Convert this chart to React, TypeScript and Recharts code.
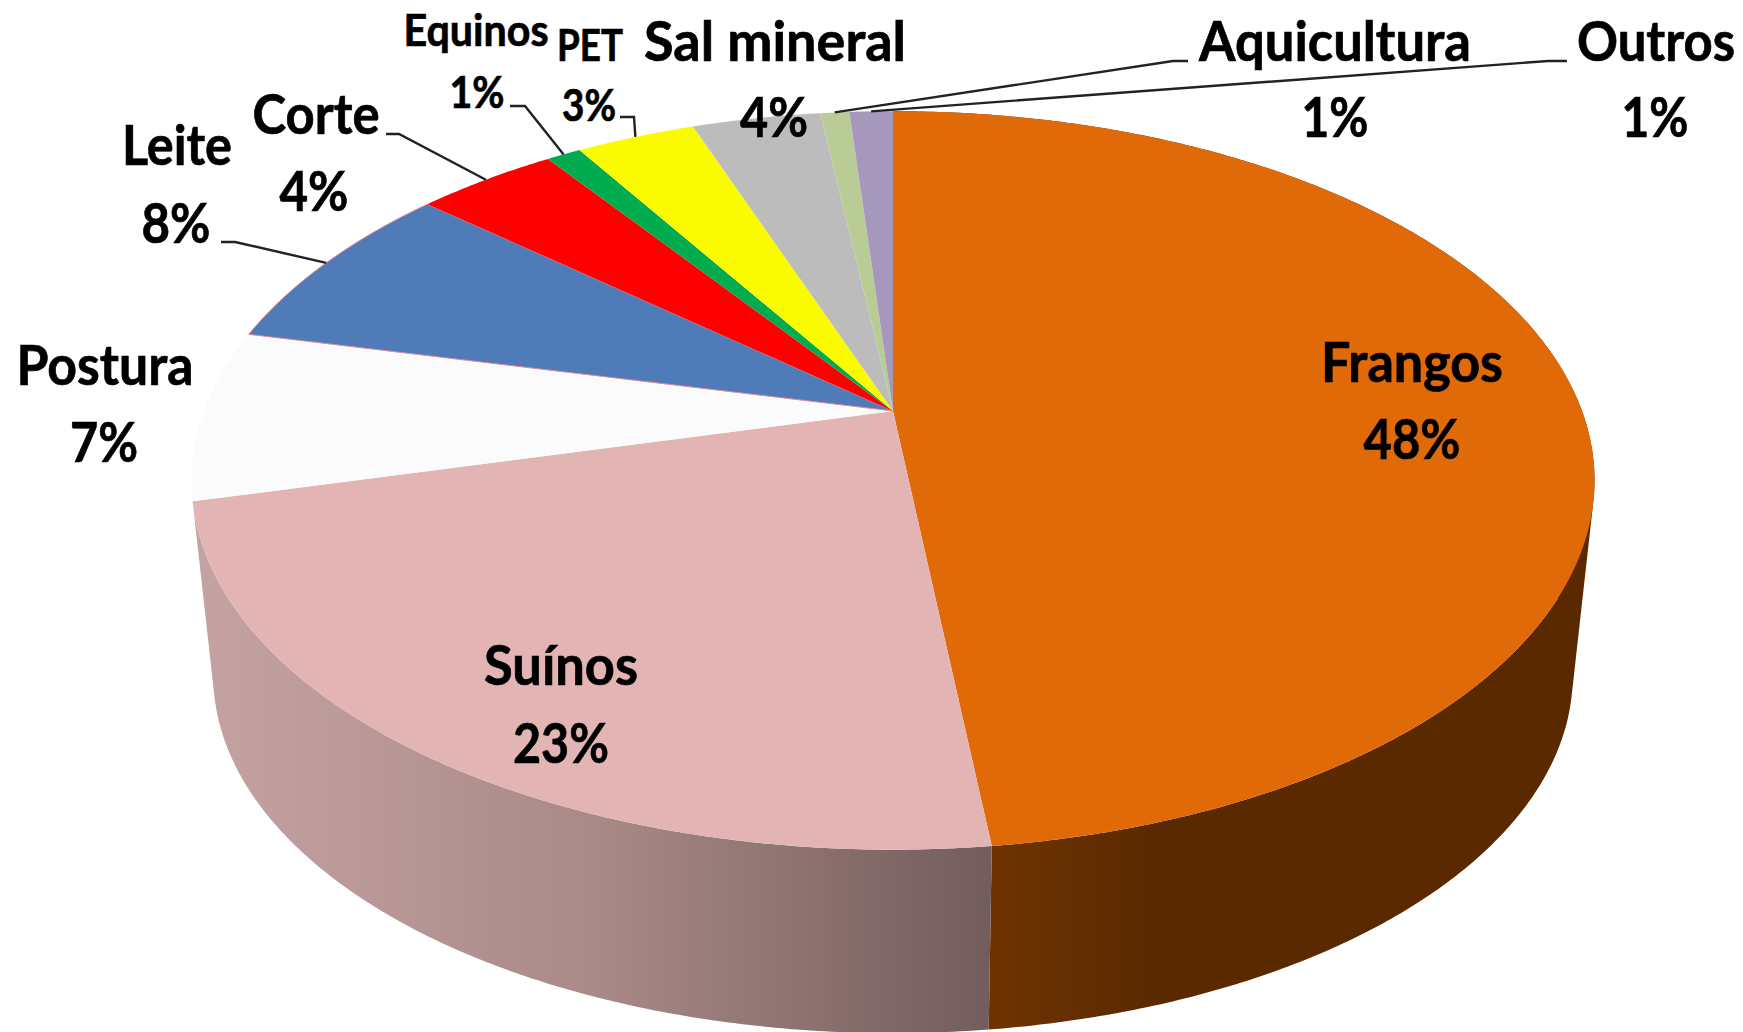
import React from 'react';
import { PieChart, Pie } from 'recharts';

const CATEGORIES = ['Frangos', 'Suínos', 'Postura', 'Leite', 'Corte', 'Equinos', 'PET', 'Sal mineral', 'Aquicultura', 'Outros'];
const SHARES = [48.14, 22.97, 7.49, 7.7, 3.9, 0.95, 3.3, 3.55, 0.8, 1.2];
const SLICE_COLORS = ['#e06908', '#e2b5b4', '#fbfbfb', '#4f7cb8', '#fe0000', '#00ac4e', '#fbfb00', '#bcbcbc', '#bacc96', '#a698bd'];
const WALL_FILLS = ['url(#wallFrangos)', 'url(#wallSuinos)', 'none', 'none', 'none', 'none', 'none', 'none', 'none', 'none'];

// name centre x, name baseline, percent centre x, percent baseline, font size, name width, percent width
const LABEL_LAYOUT = [
    [1412, 382, 1412, 459, 56, 182, 97],
    [561, 685, 561, 763, 56, 154, 96],
    [105, 385, 104, 462, 56, 177, 68],
    [177, 165, 176, 243, 56, 110, 69],
    [316, 134, 314, 211, 56, 127, 69],
    [476, 46, 477, 108, 44, 145, 55],
    [590, 61, 589, 121, 44, 66, 54],
    [775, 61, 774, 137, 56, 262, 68],
    [1335, 61, 1335, 137, 56, 272, 67],
    [1656, 61, 1655, 137, 56, 158, 67],
];

// leader line elbows, [label end, knee]
const LEADERS: Record<string, number[]> = {
    Leite: [221, 242, 235, 242],
    Corte: [386, 134, 399, 134],
    Equinos: [510, 106, 525, 106],
    PET: [620, 117, 634, 117],
    Aquicultura: [1188, 61, 1173, 61],
    Outros: [1567, 61, 1548, 61],
};

const tableData = CATEGORIES.map((name, i) => ({ name, value: SHARES[i] }));

// tilted disc: the pie centre sits behind the middle of the ellipse
const SQUASH = 0.517;
const TILT = 0.188;
const DEPTH = 197;
const BOTTOM_SCALE = 0.969;

const project = (cx: number, cy: number, r: number, deg: number) => {
    const rad = (deg * Math.PI) / 180;
    const u = Math.cos(rad);
    const v = -Math.sin(rad);
    const d = 1 - TILT * v;
    return [cx + (r * u) / d, cy + (r * SQUASH * v) / d];
};

const arcPoints = (cx: number, cy: number, r: number, from: number, to: number) => {
    const steps = Math.max(2, Math.ceil(Math.abs(to - from) * 2));
    const pts: number[][] = [];
    for (let i = 0; i <= steps; i++) {
        pts.push(project(cx, cy, r, from + ((to - from) * i) / steps));
    }
    return pts;
};

const toPath = (pts: number[][]) => pts.map((p, i) => `${i ? 'L' : 'M'}${p[0].toFixed(2)} ${p[1].toFixed(2)}`).join(' ') + ' Z';

const TopFace = (props: any) => {
    const { cx, cy, outerRadius, startAngle, endAngle, name } = props;
    const idx = CATEGORIES.indexOf(name);
    const d = toPath([[cx, cy], ...arcPoints(cx, cy, outerRadius, startAngle, endAngle)]);
    const outlined = name === 'Leite';
    return <path d={d} fill={SLICE_COLORS[idx]} stroke={outlined ? '#e58a96' : 'none'} strokeWidth={outlined ? 1 : 0} />;
};

// one quad per arc step, all wound the same way so the fill has no holes at the silhouette
const SideWall = (props: any) => {
    const { cx, cy, outerRadius, startAngle, endAngle, name } = props;
    const fill = WALL_FILLS[CATEGORIES.indexOf(name)];
    if (fill === 'none') return <g />;
    const top = arcPoints(cx, cy, outerRadius, startAngle, endAngle);
    const bottom = arcPoints(cx, cy + DEPTH, outerRadius * BOTTOM_SCALE, startAngle, endAngle);
    const quads: string[] = [];
    for (let i = 0; i < top.length - 1; i++) {
        const quad = [top[i], top[i + 1], bottom[i + 1], bottom[i]];
        let area = 0;
        quad.forEach((p, k) => {
            const q = quad[(k + 1) % 4];
            area += p[0] * q[1] - q[0] * p[1];
        });
        quads.push(toPath(area < 0 ? quad.reverse() : quad));
    }
    return <path d={quads.join(' ')} fill={fill} fillRule="nonzero" stroke="none" />;
};

const renderLabel = (props: any) => {
    const { cx, cy, midAngle, outerRadius, name, value, index } = props;
    const [nameX, nameY, pctX, pctY, size, nameW, pctW] = LABEL_LAYOUT[index];
    const elbow = LEADERS[name];
    const tip = project(cx, cy, outerRadius, midAngle);
    const textStyle = { fontFamily: 'Lato, sans-serif', fontWeight: 700, fontSize: size, fill: '#000', stroke: '#000', strokeWidth: 0.7 };
    return (
        <g key={name}>
            {elbow && (
                <polyline
                    points={`${elbow[0]},${elbow[1]} ${elbow[2]},${elbow[3]} ${tip[0]},${tip[1]}`}
                    fill="none"
                    stroke="#222"
                    strokeWidth={2.4}
                />
            )}
            <text x={nameX} y={nameY} textAnchor="middle" textLength={nameW} lengthAdjust="spacingAndGlyphs" style={textStyle}>
                {name}
            </text>
            <text x={pctX} y={pctY} textAnchor="middle" textLength={pctW} lengthAdjust="spacingAndGlyphs" style={textStyle}>
                {Math.round(value)}%
            </text>
        </g>
    );
};

const App = () => {
    return (
        <div style={{ position: 'absolute', left: 0, top: 0, width: 1743, height: 1032, background: '#fff' }}>
            <PieChart width={1743} height={1032} margin={{ top: 0, right: 0, bottom: 0, left: 0 }}>
                <defs>
                    <linearGradient id="wallSuinos" gradientUnits="userSpaceOnUse" x1={192} y1={0} x2={992} y2={0}>
                        <stop offset="0%" stopColor="#c6a3a3" />
                        <stop offset="50%" stopColor="#a98a87" />
                        <stop offset="100%" stopColor="#725c5c" />
                    </linearGradient>
                    <linearGradient id="wallFrangos" gradientUnits="userSpaceOnUse" x1={990} y1={0} x2={1596} y2={0}>
                        <stop offset="0%" stopColor="#6e3400" />
                        <stop offset="28%" stopColor="#5a2900" />
                        <stop offset="100%" stopColor="#5a2900" />
                    </linearGradient>
                </defs>
                <Pie
                    data={tableData}
                    dataKey="value"
                    nameKey="name"
                    cx={893}
                    cy={411}
                    innerRadius={0}
                    outerRadius={689}
                    startAngle={90}
                    endAngle={-270}
                    stroke="none"
                    shape={SideWall}
                    isAnimationActive={false}
                />
                <Pie
                    data={tableData}
                    dataKey="value"
                    nameKey="name"
                    cx={893}
                    cy={411}
                    innerRadius={0}
                    outerRadius={689}
                    startAngle={90}
                    endAngle={-270}
                    stroke="none"
                    shape={TopFace}
                    label={renderLabel}
                    labelLine={false}
                    isAnimationActive={false}
                />
            </PieChart>
        </div>
    );
};

export default App;
